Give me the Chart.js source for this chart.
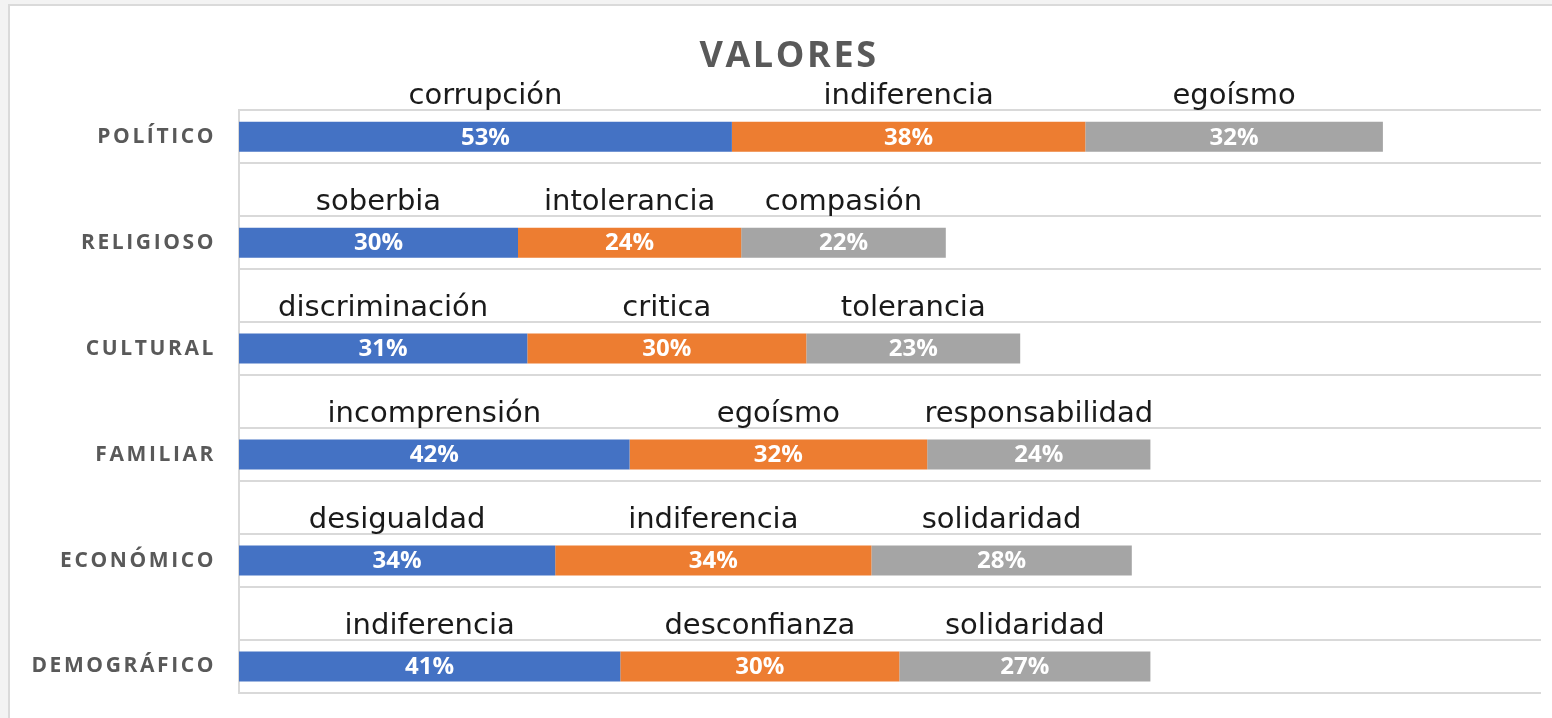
<!DOCTYPE html>
<html>
<head>
<meta charset="utf-8">
<script src="https://cdn.jsdelivr.net/npm/chart.js@4.4.1/dist/chart.umd.min.js"></script>
<style>
  html, body { margin: 0; padding: 0; background: #f3f3f3; }
  #frame {
    position: absolute; left: 8px; top: 4px; width: 1560px; height: 730px;
    background: #fff; border-top: 2px solid #dadada; border-left: 2px solid #dadada;
  }
  #chart { position: absolute; left: 0; top: 0; }
</style>
</head>
<body>
<div id="frame"></div>
<canvas id="chart" width="1552" height="718"></canvas>
<script>
// ── data ────────────────────────────────────────────────
const categories  = ['POLÍTICO', 'RELIGIOSO', 'CULTURAL', 'FAMILIAR', 'ECONÓMICO', 'DEMOGRÁFICO'];
const firstPct    = [53, 30, 31, 42, 34, 41];
const secondPct   = [38, 24, 30, 32, 34, 30];
const thirdPct    = [32, 22, 23, 24, 28, 27];
const firstWords  = ['corrupción', 'soberbia', 'discriminación', 'incomprensión', 'desigualdad', 'indiferencia'];
const secondWords = ['indiferencia', 'intolerancia', 'critica', 'egoísmo', 'indiferencia', 'desconfianza'];
const thirdWords  = ['egoísmo', 'compasión', 'tolerancia', 'responsabilidad', 'solidaridad', 'solidaridad'];

// every category gets an empty row above it (except the first) for the word labels
const rows   = categories.flatMap((c, i) => i ? ['', c] : [c]);
const spread = arr => arr.flatMap((v, i) => i ? [null, v] : [v]);

const barLabels = {
    id: 'barLabels',
    // axis box starts at the left padding; let the long category names run past it
    afterLayout(chart)        { chart.scales.y.left = 0; },
    beforeDraw(chart)         { chart.ctx.letterSpacing = '2.6px'; },  // title + axis labels
    beforeDatasetsDraw(chart) { chart.ctx.letterSpacing = '0px'; },
    afterDatasetsDraw(chart) {
        const ctx = chart.ctx;
        ctx.save();
        ctx.textAlign = 'center';
        chart.data.datasets.forEach((ds, di) => {
            chart.getDatasetMeta(di).data.forEach((bar, i) => {
                const v = ds.data[i];
                if (v == null) return;
                const cx = (bar.x + bar.base) / 2;
                ctx.fillStyle = '#fff';
                ctx.font = 'bold 24px "Open Sans"';
                ctx.textBaseline = 'middle';
                ctx.fillText(v + '%', cx, bar.y + 1);
                ctx.fillStyle = '#1a1a1a';
                ctx.font = '29px "DejaVu Sans"';
                ctx.textBaseline = 'alphabetic';
                ctx.fillText(ds.words[i], cx, bar.y - 33);
            });
        });
        ctx.restore();
    },
};

const mkSet = (data, words, color) => ({
    data: spread(data), words: spread(words),
    backgroundColor: color, borderWidth: 0,
    categoryPercentage: 1, barPercentage: 0.566,
});

new Chart(document.getElementById('chart'), {
    type: 'bar',
    data: {
        labels: rows,
        datasets: [
            mkSet(firstPct,  firstWords,  '#4472C4'),
            mkSet(secondPct, secondWords, '#ED7D31'),
            mkSet(thirdPct,  thirdWords,  '#A5A5A5'),
        ],
    },
    options: {
        indexAxis: 'y',
        responsive: false,
        animation: false,
        devicePixelRatio: 1,
        layout: { padding: { top: 35, left: 37, right: 11, bottom: 25 } },
        plugins: {
            legend: { display: false },
            tooltip: { enabled: false },
            title: {
                display: true, text: 'VALORES', color: '#595959',
                font: { family: 'Open Sans', size: 36, weight: 'bold' },
                padding: { top: 0, bottom: 32 },
            },
        },
        scales: {
            x: { stacked: true, min: 0, max: 140, display: false },
            y: {
                stacked: true,
                afterFit: s => { s.width = 202; s.paddingTop = 0; s.paddingBottom = 0; },
                grid: { color: '#d9d9d9', lineWidth: 2, drawTicks: false },
                border: { color: '#d9d9d9', width: 2 },
                ticks: {
                    color: '#595959', padding: 23,
                    font: { family: 'Open Sans', size: 21, weight: 'bold' },
                },
            },
        },
    },
    plugins: [barLabels],
});
</script>
</body>
</html>
